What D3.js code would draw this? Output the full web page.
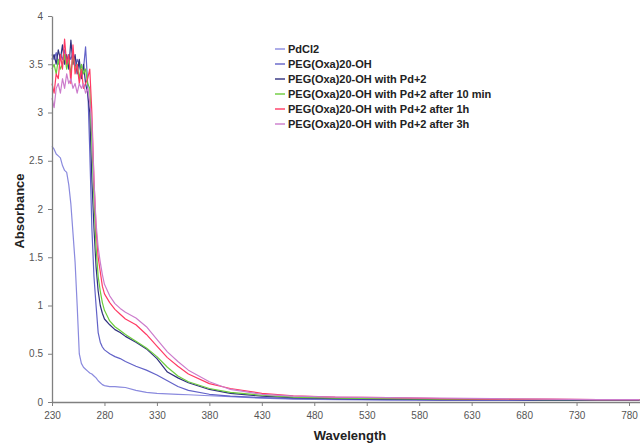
<!DOCTYPE html>
<html>
<head>
<meta charset="utf-8">
<script src="https://cdn.jsdelivr.net/npm/d3@7"></script>
<style>
  body { margin: 0; background: #fff; }
  svg { display: block; }
</style>
</head>
<body>
<svg id="chart" width="640" height="444"></svg>
<script>
// shared wavelength grid (nm)
const wavelengths = [230,232,234,236,238,240,242,244,246,248,250,252,254,256,258,260,262,264,266,
  268,270,272,274,276,278,280,285,290,295,300,310,320,330,340,350,360,
  380,400,430,460,500,550,600,650,700,750,790];

const pdcl2 = [2.65,2.62,2.57,2.55,2.53,2.45,2.4,2.38,2.25,2.05,1.75,1.45,1.0,0.5,0.4,0.36,0.34,0.32,0.3,
  0.29,0.27,0.25,0.22,0.2,0.18,0.17,0.16,0.16,0.155,0.15,0.12,0.1,0.09,0.085,0.08,0.075,
  0.065,0.055,0.04,0.03,0.025,0.02,0.02,0.02,0.02,0.02,0.02];

const pegOH = [3.6,3.55,3.62,3.5,3.6,3.55,3.65,3.5,3.6,3.55,3.62,3.45,3.55,3.5,3.4,3.45,3.68,3.3,2.6,
  1.8,1.3,1.0,0.72,0.62,0.57,0.54,0.5,0.47,0.45,0.42,0.37,0.33,0.28,0.22,0.16,0.12,
  0.08,0.06,0.045,0.035,0.03,0.025,0.02,0.02,0.02,0.02,0.02];

const pegPd = [3.55,3.6,3.5,3.65,3.55,3.7,3.5,3.6,3.45,3.75,3.5,3.6,3.4,3.55,3.35,3.5,3.3,3.2,3.0,
  2.3,1.8,1.4,1.15,1.0,0.92,0.86,0.8,0.75,0.72,0.68,0.62,0.55,0.45,0.31,0.25,0.2,
  0.13,0.09,0.06,0.045,0.035,0.03,0.025,0.025,0.02,0.02,0.02];

const pegPd10min = [3.45,3.5,3.4,3.55,3.45,3.5,3.6,3.45,3.55,3.4,3.6,3.45,3.5,3.35,3.5,3.4,3.45,3.3,3.25,
  2.7,2.1,1.6,1.3,1.15,1.03,0.95,0.84,0.78,0.74,0.7,0.63,0.56,0.47,0.36,0.27,0.21,
  0.14,0.1,0.07,0.05,0.04,0.035,0.03,0.03,0.025,0.025,0.025];

const pegPd1h = [3.3,3.2,3.4,3.35,3.6,3.45,3.76,3.5,3.6,3.3,3.7,3.4,3.5,3.3,3.45,3.25,3.3,3.35,3.45,
  3.0,2.3,1.8,1.5,1.35,1.2,1.12,1.03,0.96,0.91,0.86,0.8,0.7,0.58,0.46,0.37,0.29,
  0.19,0.14,0.09,0.065,0.05,0.045,0.035,0.03,0.03,0.025,0.025];

const pegPd3h = [3.15,3.05,3.25,3.3,3.2,3.35,3.25,3.4,3.3,3.35,3.25,3.3,3.2,3.3,3.25,3.3,3.2,3.25,3.1,
  2.9,2.3,1.85,1.6,1.45,1.32,1.22,1.1,1.02,0.97,0.93,0.87,0.78,0.65,0.52,0.42,0.33,
  0.21,0.13,0.08,0.06,0.05,0.045,0.04,0.035,0.03,0.025,0.025];

const seriesNames = ["PdCl2", "PEG(Oxa)20-OH", "PEG(Oxa)20-OH with Pd+2",
  "PEG(Oxa)20-OH with Pd+2 after 10 min", "PEG(Oxa)20-OH with Pd+2 after 1h",
  "PEG(Oxa)20-OH with Pd+2 after 3h"];
const seriesValues = [pdcl2, pegOH, pegPd, pegPd10min, pegPd1h, pegPd3h];
const seriesColors = ["#8a8ade", "#6262c8", "#30307e", "#6ccc3c", "#ff3a64", "#cc7ccc"];

const xTicks = [230,280,330,380,430,480,530,580,630,680,730,780];
const yTicks = [0,0.5,1,1.5,2,2.5,3,3.5,4];

const svg = d3.select("#chart");
const x = d3.scaleLinear().domain([230, 790]).range([52, 639.5]);
const y = d3.scaleLinear().domain([0, 4]).range([402, 16]);

// series lines
const line = d3.line()
  .x(d => x(d[0]))
  .y(d => y(d[1]));

seriesValues.forEach((vals, i) => {
  svg.append("path")
    .datum(wavelengths.map((w, j) => [w, vals[j]]))
    .attr("fill", "none")
    .attr("stroke", seriesColors[i])
    .attr("stroke-width", 1.2)
    .attr("stroke-linejoin", "round")
    .attr("d", line);
});

// y axis
const yAxis = svg.append("g")
  .attr("transform", "translate(52,0)")
  .call(d3.axisLeft(y).tickValues(yTicks).tickSize(4).tickPadding(5)
    .tickFormat(d => d).tickSizeOuter(0));

// x axis
const xAxis = svg.append("g")
  .attr("transform", "translate(0,402)")
  .call(d3.axisBottom(x).tickValues(xTicks).tickSize(4).tickPadding(6).tickSizeOuter(0));

[xAxis, yAxis].forEach(g => {
  g.select(".domain").attr("stroke", "#808080").attr("stroke-width", 1.3);
  g.selectAll(".tick line").attr("stroke", "#808080");
  g.selectAll("text")
    .attr("fill", "#555")
    .style("font-family", "'Liberation Sans', Arial, sans-serif")
    .style("font-size", "10px");
});

// axis titles
svg.append("text")
  .attr("x", 350).attr("y", 440)
  .attr("text-anchor", "middle")
  .style("font-family", "'Liberation Sans', Arial, sans-serif")
  .style("font-weight", "bold").style("font-size", "13px")
  .attr("fill", "#222")
  .text("Wavelength");

svg.append("text")
  .attr("transform", "translate(24,211) rotate(-90)")
  .attr("text-anchor", "middle")
  .style("font-family", "'Liberation Sans', Arial, sans-serif")
  .style("font-weight", "bold").style("font-size", "13px")
  .attr("fill", "#222")
  .text("Absorbance");

// legend
const legend = svg.append("g").attr("transform", "translate(275,49)");
seriesNames.forEach((name, i) => {
  const row = legend.append("g").attr("transform", `translate(0,${i * 15})`);
  row.append("line")
    .attr("x1", 0).attr("x2", 10)
    .attr("stroke", seriesColors[i]).attr("stroke-width", 1.4);
  row.append("text")
    .attr("x", 13).attr("dy", "0.35em")
    .style("font-family", "'Liberation Sans', Arial, sans-serif")
    .style("font-weight", "bold").style("font-size", "11px")
    .attr("fill", "#222")
    .text(name);
});
</script>
</body>
</html>
